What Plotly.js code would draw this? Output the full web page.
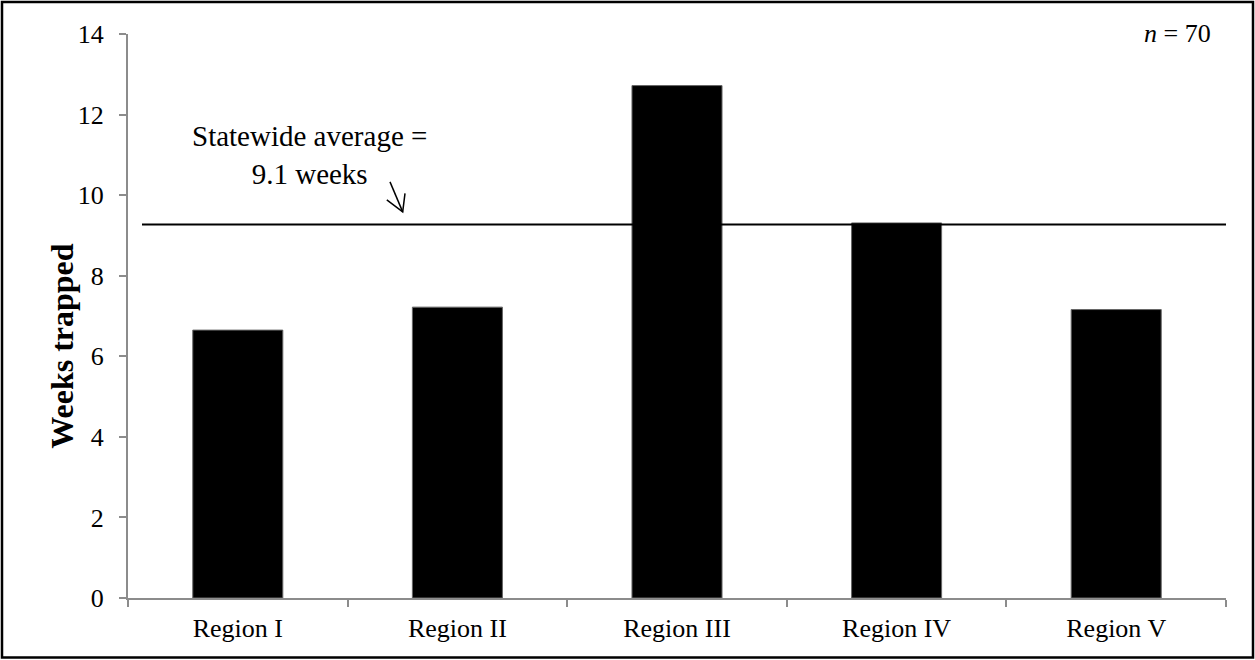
<!DOCTYPE html>
<html>
<head>
<meta charset="utf-8">
<script src="https://cdn.plot.ly/plotly-3.0.1.min.js"></script>
<style>
html,body{margin:0;padding:0;background:#fff;}
#chart{width:1255px;height:660px;}
</style>
</head>
<body>
<div id="chart"></div>
<script>
// ---- data ----
const regions = ["Region I", "Region II", "Region III", "Region IV", "Region V"];
const weeksTrapped = [6.65, 7.22, 12.72, 9.31, 7.16];
const statewideLine = 9.27;
const statewideLabel = "Statewide average =<br>9.1 weeks";
const sampleLabel = "<i>n</i> = 70";
const yTickVals = [0, 2, 4, 6, 8, 10, 12, 14];

// ---- layout helpers ----
const W = 1255, H = 660;
const M = {l: 128, r: 29, t: 34, b: 61.5};
const PW = W - M.l - M.r, PH = H - M.t - M.b;
const px = x => (x - M.l) / PW;
const py = y => (H - M.b - y) / PH;

const font = "Liberation Serif";

const trace = {
  type: "bar",
  x: regions,
  y: weeksTrapped,
  marker: {color: "#000", line: {color: "#666", width: 1}},
  hoverinfo: "x+y"
};

const shapes = [
  // statewide average line
  {type: "line", xref: "paper", yref: "y", x0: px(142), x1: 1.0,
   y0: statewideLine, y1: statewideLine, line: {color: "#000", width: 2}},
  // arrow shaft and head
  {type: "path", xref: "paper", yref: "paper",
   path: `M${px(390)},${py(182)} L${px(402.7)},${py(212)}`,
   line: {color: "#000", width: 1.5}},
  {type: "path", xref: "paper", yref: "paper",
   path: `M${px(386.8)},${py(200)} L${px(402.7)},${py(212)} L${px(405)},${py(193.5)}`,
   line: {color: "#000", width: 1.5}},
  // outer frame
  {type: "rect", xref: "paper", yref: "paper",
   x0: px(2), x1: px(1253), y0: py(658), y1: py(2),
   line: {color: "#000", width: 2.5}}
];

const annotations = [
  {xref: "paper", yref: "paper", x: px(309), y: py(155), text: statewideLabel,
   showarrow: false, xanchor: "center", yanchor: "middle", align: "center",
   font: {family: font, size: 29, color: "#000"}},
  {xref: "paper", yref: "paper", x: px(1213), y: py(33), text: sampleLabel,
   showarrow: false, xanchor: "right", yanchor: "middle",
   font: {family: font, size: 26, color: "#000"}},
  {xref: "paper", yref: "paper", x: px(62), y: py(346), text: "<b>Weeks trapped</b>",
   textangle: -90, showarrow: false, xanchor: "center", yanchor: "middle",
   font: {family: font, size: 32, color: "#000"}}
];

const layout = {
  width: W, height: H,
  margin: {l: M.l, r: M.r, t: M.t, b: M.b, pad: 0},
  paper_bgcolor: "#fff", plot_bgcolor: "#fff",
  showlegend: false,
  bargap: 0.59,
  font: {family: font, size: 26, color: "#000"},
  xaxis: {
    type: "category", showgrid: false, zeroline: false,
    showline: true, linecolor: "#8c8c8c", linewidth: 2,
    ticks: "outside", tickson: "boundaries", ticklen: 7, tickcolor: "#8c8c8c", tickwidth: 2,
    ticklabelstandoff: 6,
    tickfont: {family: font, size: 26, color: "#000"},
    range: [-0.5, 4.5]
  },
  yaxis: {
    range: [0, 14], tickvals: yTickVals, showgrid: false, zeroline: false,
    showline: true, linecolor: "#8c8c8c", linewidth: 2,
    ticks: "outside", ticklen: 7, tickcolor: "#8c8c8c", tickwidth: 2,
    ticklabelstandoff: 10,
    tickfont: {family: font, size: 26, color: "#000"}
  },
  shapes: shapes,
  annotations: annotations
};

Plotly.newPlot("chart", [trace], layout, {displayModeBar: false, staticPlot: true});
</script>
</body>
</html>
